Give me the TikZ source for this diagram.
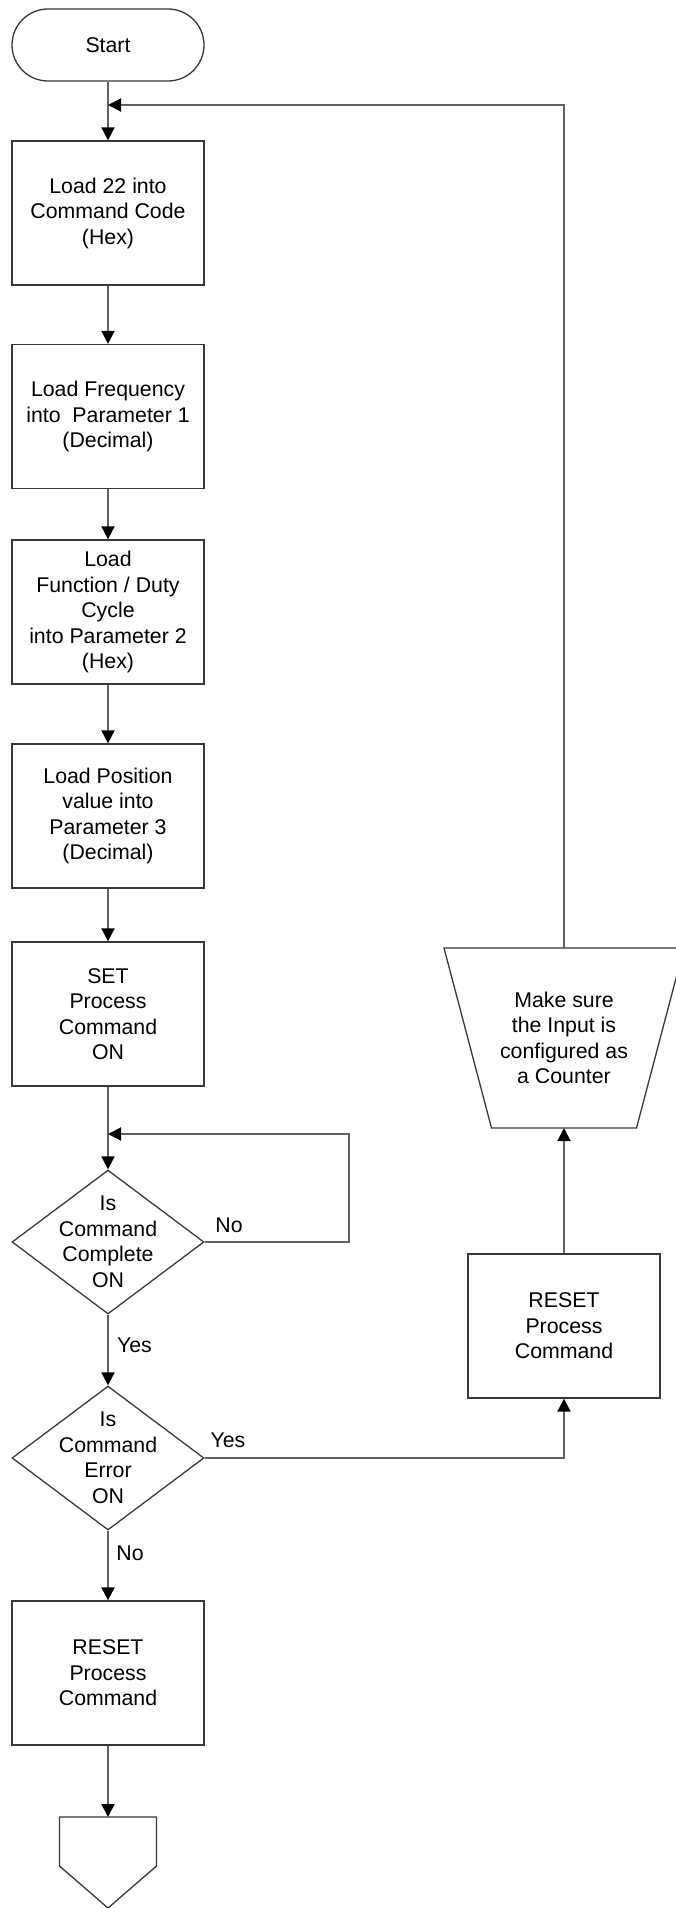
\documentclass[tikz,border=0pt]{standalone}
\usepackage{fontspec}
\setmainfont{Liberation Sans}
\usetikzlibrary{arrows.meta,shapes.geometric}
\begin{document}
\begin{tikzpicture}[x=1pt,y=-1pt,
  font=\fontsize{21.3}{25.5}\selectfont,
  shapeline/.style={draw=black!78, line width=1.3pt},
  stepbox/.style={shapeline, rectangle, minimum width=192pt, minimum height=144pt, inner sep=0pt, align=center},
  term/.style={shapeline, rectangle, rounded corners=36pt, minimum width=192pt, minimum height=72pt, inner sep=0pt},
  decision/.style={shapeline, diamond, minimum width=192pt, minimum height=144pt, inner sep=0pt},
  plain/.style={align=center, inner sep=0pt},
  flow/.style={draw=black!62, line width=2pt, -{Triangle[length=13pt,width=13pt,color=black]}},
  tag/.style={inner sep=0pt}
]
\useasboundingbox (0,0) rectangle (676,1908);

% main column
\node[term] (start) at (108,45) {Start};
\node[stepbox] (b1) at (108,213) {Load 22 into\\Command Code\\(Hex)};
\node[stepbox] (b2) at (108,416.5) {Load Frequency\\into\ \ Parameter 1\\(Decimal)};
\node[stepbox] (b3) at (108,612) {Load\\Function / Duty\\Cycle\\into Parameter 2\\(Hex)};
\node[stepbox] (b4) at (108,816) {Load Position\\value into\\Parameter 3\\(Decimal)};
\node[stepbox] (b5) at (108,1014) {SET\\Process\\Command\\ON};
\node[decision] (d1) at (108,1242) {};
\node[plain] (d1text) at (d1.center) {Is\\Command\\Complete\\ON};
\node[decision] (d2) at (108,1458) {};
\node[plain] (d2text) at (d2.center) {Is\\Command\\Error\\ON};
\node[stepbox] (b6) at (108,1673) {RESET\\Process\\Command};

% off-page connector at the bottom
\coordinate (offpage) at (108,1817);
\draw[shapeline] (offpage) ++(-48.5,0) -- ++(97,0) -- ++(0,49) -- (108,1908) -- (59.5,1866) -- cycle;

% error branch on the right
\node[stepbox] (rb) at (564,1326) {RESET\\Process\\Command};
\coordinate (trapTop) at (564,948);
\coordinate (trapBot) at (564,1128);
\draw[shapeline] (444,948) -- (684,948) -- (636.5,1128) -- (491.5,1128) -- cycle;
\node[plain] (trap) at (564,1038) {Make sure\\the Input is\\configured as\\a Counter};

% junction points on the main line
\coordinate (j0) at (108,105);
\coordinate (j1) at (108,1134);

% connectors
\draw[flow] (start) -- (b1);
\draw[flow] (b1) -- (b2);
\draw[flow] (b2) -- (b3);
\draw[flow] (b3) -- (b4);
\draw[flow] (b4) -- (b5);
\draw[flow] (b5) -- (d1);
\draw[flow] (d1) -- (d2);
\draw[flow] (d2) -- (b6);
\draw[flow] (b6) -- (offpage);
\draw[flow] (d1.east) -- ++(144,0) |- (j1);
\draw[flow] (d2.east) -| (rb.south);
\draw[flow] (rb.north) -- (trapBot);
\draw[flow] (trapTop) |- (j0);

% branch labels
\node[tag] (no1) at (229,1225) {No};
\node[tag] (yes1) at (134.5,1345) {Yes};
\node[tag] (yes2) at (228,1440) {Yes};
\node[tag] (no2) at (130,1553) {No};
\end{tikzpicture}
\end{document}
